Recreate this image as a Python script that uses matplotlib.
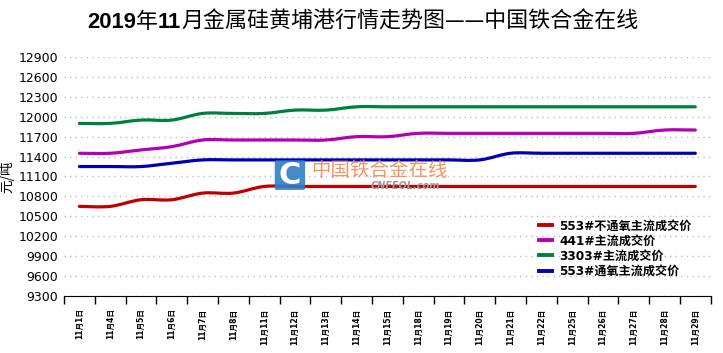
import numpy as np
import matplotlib.pyplot as plt
from matplotlib.path import Path
from matplotlib.patches import PathPatch, FancyBboxPatch

plt.rcParams['font.family'] = ['DejaVu Sans', 'Noto Sans CJK SC']

dates = ['11月1日', '11月4日', '11月5日', '11月6日', '11月7日', '11月8日', '11月11日',
         '11月12日', '11月13日', '11月14日', '11月15日', '11月18日', '11月19日', '11月20日',
         '11月21日', '11月22日', '11月25日', '11月26日', '11月27日', '11月28日', '11月29日']

red_553_no_o2 = [10650, 10650, 10750, 10750, 10850, 10850, 10950, 10950, 10950, 10950, 10950,
                 10950, 10950, 10950, 10950, 10950, 10950, 10950, 10950, 10950, 10950]
mag_441 = [11450, 11450, 11500, 11550, 11650, 11650, 11650, 11650, 11650, 11700, 11700,
           11750, 11750, 11750, 11750, 11750, 11750, 11750, 11750, 11800, 11800]
green_3303 = [11900, 11900, 11950, 11950, 12050, 12050, 12050, 12100, 12100, 12150, 12150,
              12150, 12150, 12150, 12150, 12150, 12150, 12150, 12150, 12150, 12150]
blue_553_o2 = [11250, 11250, 11250, 11300, 11350, 11350, 11350, 11350, 11350, 11350, 11350,
               11350, 11350, 11350, 11450, 11450, 11450, 11450, 11450, 11450, 11450]

series = [
    ('553#不通氧主流成交价', red_553_no_o2, '#c00000'),
    ('441#主流成交价', mag_441, '#b400b4'),
    ('3303#主流成交价', green_3303, '#00803f'),
    ('553#通氧主流成交价', blue_553_o2, '#0000b4'),
]

yticks = list(range(9300, 12901, 300))

# title pieces: digits bold, chinese regular
title_parts = [('2019', 'bold'), ('年', 'normal'), ('11', 'bold'),
               ('月金属硅黄埔港行情走势图——中国铁合金在线', 'normal')]


def smooth_path(x, y):
    # catmull-rom style bezier through the points
    pts = np.column_stack([x, y]).astype(float)
    n = len(pts)
    verts = [pts[0]]
    codes = [Path.MOVETO]
    for i in range(n - 1):
        p0 = pts[max(i - 1, 0)]
        p1 = pts[i]
        p2 = pts[i + 1]
        p3 = pts[min(i + 2, n - 1)]
        c1 = p1 + (p2 - p0) / 6.0
        c2 = p2 - (p3 - p1) / 6.0
        verts += [c1, c2, p2]
        codes += [Path.CURVE4] * 3
    return Path(verts, codes)


fig = plt.figure(figsize=(7.23, 3.53), dpi=100)
ax = fig.add_axes([0.0885, 0.1615, 0.8945, 0.677])

x = np.arange(len(dates))
for label, vals, color in series:
    ax.add_patch(PathPatch(smooth_path(x, vals), facecolor='none', edgecolor=color,
                           lw=2.3, capstyle='round'))
    ax.plot([], [], color=color, lw=2.8, label=label)

ax.set_xlim(-0.5, len(dates) - 0.5)
ax.set_ylim(9300, 12900)
ax.set_yticks(yticks)
ax.set_yticklabels([str(v) for v in yticks], fontsize=9)
ax.tick_params(axis='y', length=0, pad=4)
ax.yaxis.grid(True, linestyle=(0, (1, 3)), color='#bdbdbd', lw=1)
ax.set_axisbelow(True)

ax.set_xticks(np.arange(len(dates) + 1) - 0.5)
ax.set_xticklabels([])
ax.tick_params(axis='x', which='major', length=6, width=1, color='black')
ax.set_xticks(x, minor=True)
ax.set_xticklabels(dates, minor=True, rotation=90, fontsize=5.5, fontweight='bold')
ax.tick_params(axis='x', which='minor', length=0, pad=9)

for s in ['top', 'right', 'left']:
    ax.spines[s].set_visible(False)
ax.spines['bottom'].set_color('black')

ax.set_ylabel('元/吨', fontsize=9.8, family=['Noto Sans CJK SC', 'DejaVu Sans'])
ax.yaxis.set_label_coords(-0.076, 0.5)

leg = fig.legend(loc='lower left', frameon=False, bbox_to_anchor=(0.737, 0.196),
                 borderpad=0, handlelength=1.1, handletextpad=0.6, labelspacing=0.17,
                 prop={'size': 8.7, 'weight': 'bold'})

# title, chained pieces
prev = None
for txt, wt in title_parts:
    fam = ['Liberation Sans', 'Noto Sans CJK SC'] if wt == 'bold' else ['Noto Sans CJK SC']
    if prev is None:
        prev = ax.annotate(txt, xy=(87 / 723, 0.922), xycoords='figure fraction',
                           ha='left', va='baseline', fontsize=15.8, fontweight=wt,
                           family=fam, annotation_clip=False)
    else:
        prev = ax.annotate(txt, xy=(1, 0.922), xycoords=(prev, 'figure fraction'),
                           ha='left', va='baseline', fontsize=15.8, fontweight=wt,
                           family=fam, annotation_clip=False)

# watermark
fig.patches.append(FancyBboxPatch((0.383, 0.465), 0.036, 0.078, boxstyle='round,pad=0.003',
                                  transform=fig.transFigure, facecolor='#2f7fc4',
                                  edgecolor='none', alpha=0.9))
fig.text(0.401, 0.503, 'C', ha='center', va='center', color='white', fontsize=22,
         fontweight='bold')
fig.text(0.431, 0.518, '中国铁合金在线', ha='left', va='center', color='#f08a50',
         fontsize=14, family=['Noto Sans CJK SC', 'DejaVu Sans'], alpha=0.9)
fig.text(0.512, 0.473, 'CNFEOL.com', ha='left', va='center', color='#9a9a9a',
         fontsize=7, fontweight='bold', style='italic')

fig.savefig('out.png', dpi=100)
